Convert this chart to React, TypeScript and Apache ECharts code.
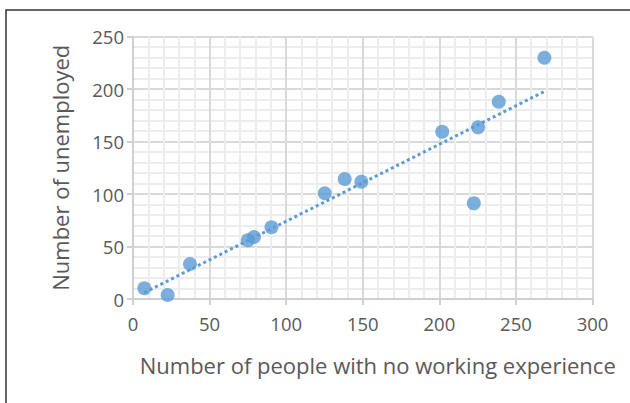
import React, { useEffect, useRef } from "react";
import * as echarts from "echarts";

const noExperience = [7.4, 22.6, 37.2, 75, 79, 90.4, 125.2, 138.2, 149.1, 201.9, 225.3, 238.8, 268.6, 222.5];
const unemployed = [10.2, 3.8, 33.3, 56, 59, 68.3, 100.7, 114.3, 111.7, 159.3, 163.5, 187.9, 229.8, 91.1];
const xTitle = "Number of people with no working experience";
const yTitle = "Number of unemployed";

function linearFit(xs: number[], ys: number[]) {
  const n = xs.length;
  const mx = xs.reduce((a, b) => a + b, 0) / n;
  const my = ys.reduce((a, b) => a + b, 0) / n;
  let sxy = 0, sxx = 0;
  for (let i = 0; i < n; i++) {
    sxy += (xs[i] - mx) * (ys[i] - my);
    sxx += (xs[i] - mx) * (xs[i] - mx);
  }
  const b = sxy / sxx;
  return { a: my - b * mx, b };
}

export default function App() {
  const ref = useRef<HTMLDivElement>(null);
  useEffect(() => {
    document.body.style.margin = "0";
    const chart = echarts.init(ref.current!, null, { renderer: "svg" });
    const pts = noExperience.map((x, i) => [x, unemployed[i]]);
    const fit = linearFit(noExperience, unemployed);
    const xmin = Math.min(...noExperience);
    const xmax = Math.max(...noExperience);
    const trend = [
      [xmin, fit.a + fit.b * xmin],
      [xmax, fit.a + fit.b * xmax],
    ];
    const font = "'Open Sans', sans-serif";
    chart.setOption({
      animation: false,
      grid: { left: 133, right: 37.5, top: 36.5, bottom: 104 },
      graphic: [
        {
          type: "rect",
          shape: { x: 6, y: 10, width: 700, height: 500 },
          style: { fill: "none", stroke: "#333", lineWidth: 1.5 },
          silent: true,
        },
      ],
      xAxis: {
        type: "value",
        min: 0,
        max: 300,
        interval: 50,
        name: xTitle,
        nameLocation: "middle",
        nameGap: 55,
        nameTextStyle: { color: "#595959", fontSize: 22, fontFamily: font, padding: [0, 0, 0, 30] },
        axisLine: { show: true, lineStyle: { color: "#D0D0D0", width: 2 } },
        axisTick: { show: true, length: 6, lineStyle: { color: "#D0D0D0", width: 2 } },
        axisLabel: { color: "#595959", fontSize: 18.5, fontFamily: font, margin: 15 },
        splitLine: { show: true, lineStyle: { color: "#D9D9D9", width: 2 } },
        minorTick: { show: false, splitNumber: 5 },
        minorSplitLine: { show: true, lineStyle: { color: "#EDEDED", width: 2 } },
      },
      yAxis: {
        type: "value",
        min: 0,
        max: 250,
        interval: 50,
        name: yTitle,
        nameLocation: "middle",
        nameGap: 62,
        nameTextStyle: { color: "#595959", fontSize: 22, fontFamily: font },
        axisLine: { show: true, lineStyle: { color: "#D0D0D0", width: 2 } },
        axisTick: { show: true, length: 6, lineStyle: { color: "#D0D0D0", width: 2 } },
        axisLabel: { color: "#595959", fontSize: 18.5, fontFamily: font, margin: 9 },
        splitLine: { show: true, lineStyle: { color: "#D9D9D9", width: 2 } },
        minorTick: { show: false, splitNumber: 5 },
        minorSplitLine: { show: true, lineStyle: { color: "#EDEDED", width: 2 } },
      },
      series: [
        {
          type: "line",
          data: trend,
          symbol: "none",
          lineStyle: { color: "#5B9BD5", width: 3, type: [3, 3] },
          z: 2,
        },
        {
          type: "scatter",
          data: pts,
          symbol: "circle",
          symbolSize: 14,
          itemStyle: { color: "#5B9BD5" },
          z: 3,
        },
      ],
    });
    return () => chart.dispose();
  }, []);
  return <div ref={ref} style={{ width: 630, height: 403 }} />;
}
